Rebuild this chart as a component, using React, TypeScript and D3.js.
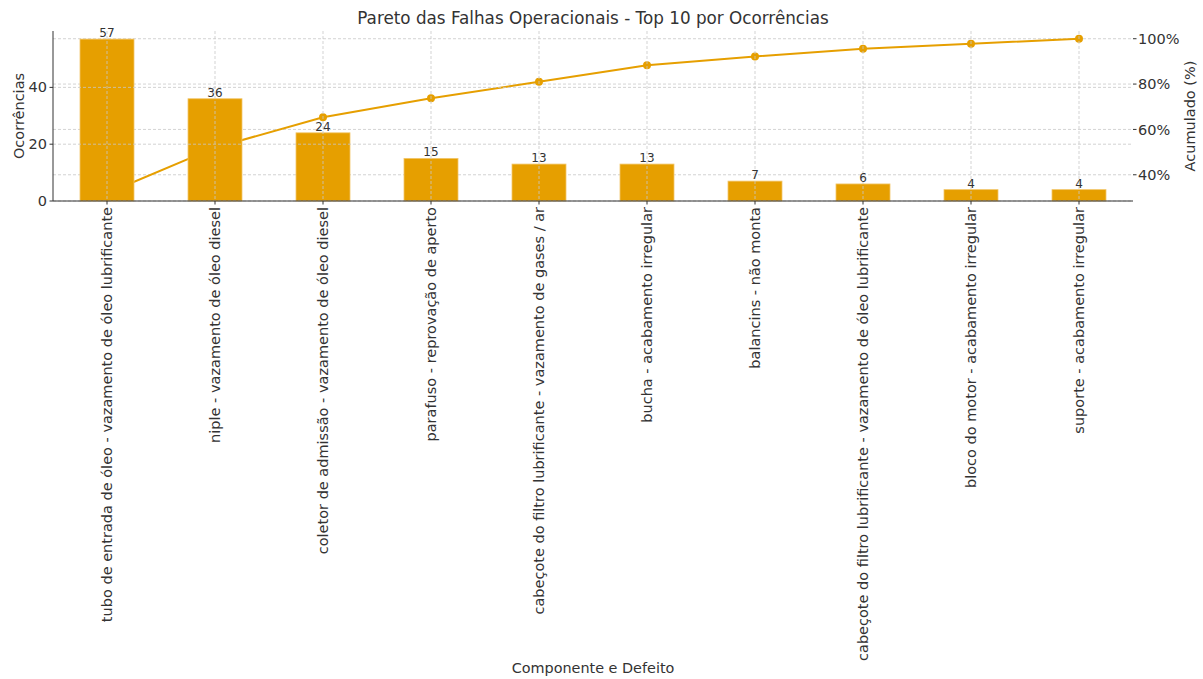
import React from "react";
import * as d3 from "d3";

const categories: string[] = [
  "tubo de entrada de óleo - vazamento de óleo lubrificante",
  "niple - vazamento de óleo diesel",
  "coletor de admissão - vazamento de óleo diesel",
  "parafuso - reprovação de aperto",
  "cabeçote do filtro lubrificante - vazamento de gases / ar",
  "bucha - acabamento irregular",
  "balancins - não monta",
  "cabeçote do filtro lubrificante - vazamento de óleo lubrificante",
  "bloco do motor - acabamento irregular",
  "suporte - acabamento irregular",
];
const counts: number[] = [57, 36, 24, 15, 13, 13, 7, 6, 4, 4];
const leftTicks: number[] = [0, 20, 40];
const rightTicks: number[] = [40, 60, 80, 100];

const W = 1203;
const H = 679;
const M = { left: 53, right: 1133, top: 31, bottom: 201 };
const COLOR = "#E69F00";
const TEXT = "#333";
const FONT = "DejaVu Sans, sans-serif";

export default function App() {
  const total = d3.sum(counts);
  let acc = 0;
  const cumPct = counts.map((c) => {
    acc += c;
    return (acc / total) * 100;
  });

  const x = d3
    .scaleLinear()
    .domain([-0.5, categories.length - 0.5])
    .range([M.left, M.right]);
  const yMax = d3.max(counts)! * 1.05;
  const y = d3.scaleLinear().domain([0, yMax]).range([M.bottom, M.top]);
  const pMin = d3.min(cumPct)!;
  const pRange = 100 - pMin;
  const y2 = d3
    .scaleLinear()
    .domain([pMin - pRange * 0.05, 100 + pRange * 0.05])
    .range([M.bottom, M.top]);
  const barW = x(0.25) - x(0);

  const line = d3
    .line<number>()
    .x((_, i) => x(i))
    .y((d) => y2(d));

  const gridStyle = { stroke: "#c8c8c8", strokeWidth: 0.8, strokeDasharray: "3,2" };

  return (
    <svg width={W} height={H} style={{ position: "absolute", left: 0, top: 0, background: "#fff" }} fontFamily={FONT}>
      {rightTicks.map((t) => (
        <line key={"g2" + t} x1={M.left} x2={M.right} y1={y2(t)} y2={y2(t)} {...gridStyle} />
      ))}
      <path d={line(cumPct) || ""} fill="none" stroke={COLOR} strokeWidth={2} />
      {cumPct.map((p, i) => (
        <circle key={"m" + i} cx={x(i)} cy={y2(p)} r={4} fill={COLOR} />
      ))}
      {counts.map((c, i) => (
        <rect
          key={"b" + i}
          x={x(i) - barW}
          y={y(c)}
          width={barW * 2}
          height={y(0) - y(c)}
          fill={COLOR}
          stroke="#f2c66a"
          strokeWidth={0.8}
        />
      ))}
      {leftTicks.map((t) => (
        <line key={"g1" + t} x1={M.left} x2={M.right} y1={y(t)} y2={y(t)} {...gridStyle} />
      ))}
      {categories.map((_, i) => (
        <line key={"gv" + i} x1={x(i)} x2={x(i)} y1={M.top} y2={M.bottom} {...gridStyle} />
      ))}
      {counts.map((c, i) => (
        <text key={"l" + i} x={x(i)} y={y(c) - 2} textAnchor="middle" fontSize={12} fill={TEXT}>
          {c}
        </text>
      ))}
      <line x1={M.left} x2={M.left} y1={M.top} y2={M.bottom} stroke="#333" strokeWidth={1} />
      <line x1={M.left} x2={M.right} y1={M.bottom} y2={M.bottom} stroke="#333" strokeWidth={1} />
      {leftTicks.map((t) => (
        <g key={"lt" + t}>
          <line x1={M.left - 3.5} x2={M.left} y1={y(t)} y2={y(t)} stroke="#333" />
          <text x={M.left - 6} y={y(t)} dy="0.35em" textAnchor="end" fontSize={14.5} fill={TEXT}>
            {t}
          </text>
        </g>
      ))}
      {rightTicks.map((t) => (
        <g key={"rt" + t}>
          <line x1={M.right} x2={M.right + 3.5} y1={y2(t)} y2={y2(t)} stroke="#333" />
          <text x={M.right + 5} y={y2(t)} dy="0.35em" textAnchor="start" fontSize={14.5} fill={TEXT}>
            {t}%
          </text>
        </g>
      ))}
      {categories.map((c, i) => (
        <g key={"xt" + i}>
          <line x1={x(i)} x2={x(i)} y1={M.bottom} y2={M.bottom + 3.5} stroke="#333" />
          <text
            transform={`translate(${x(i)},${M.bottom + 6}) rotate(-90)`}
            textAnchor="end"
            dy="0.35em"
            fontSize={14.5}
            fill={TEXT}
          >
            {c}
          </text>
        </g>
      ))}
      <text x={(M.left + M.right) / 2} y={24} textAnchor="middle" fontSize={16.8} fill={TEXT}>
        Pareto das Falhas Operacionais - Top 10 por Ocorrências
      </text>
      <text x={593} y={673} textAnchor="middle" fontSize={14.4} fill={TEXT}>
        Componente e Defeito
      </text>
      <text
        transform={`translate(24,${(M.top + M.bottom) / 2}) rotate(-90)`}
        textAnchor="middle"
        fontSize={14.5}
        fill={TEXT}
      >
        Ocorrências
      </text>
      <text
        transform={`translate(1195,${(M.top + M.bottom) / 2}) rotate(-90)`}
        textAnchor="middle"
        fontSize={14.5}
        fill={TEXT}
      >
        Acumulado (%)
      </text>
    </svg>
  );
}
